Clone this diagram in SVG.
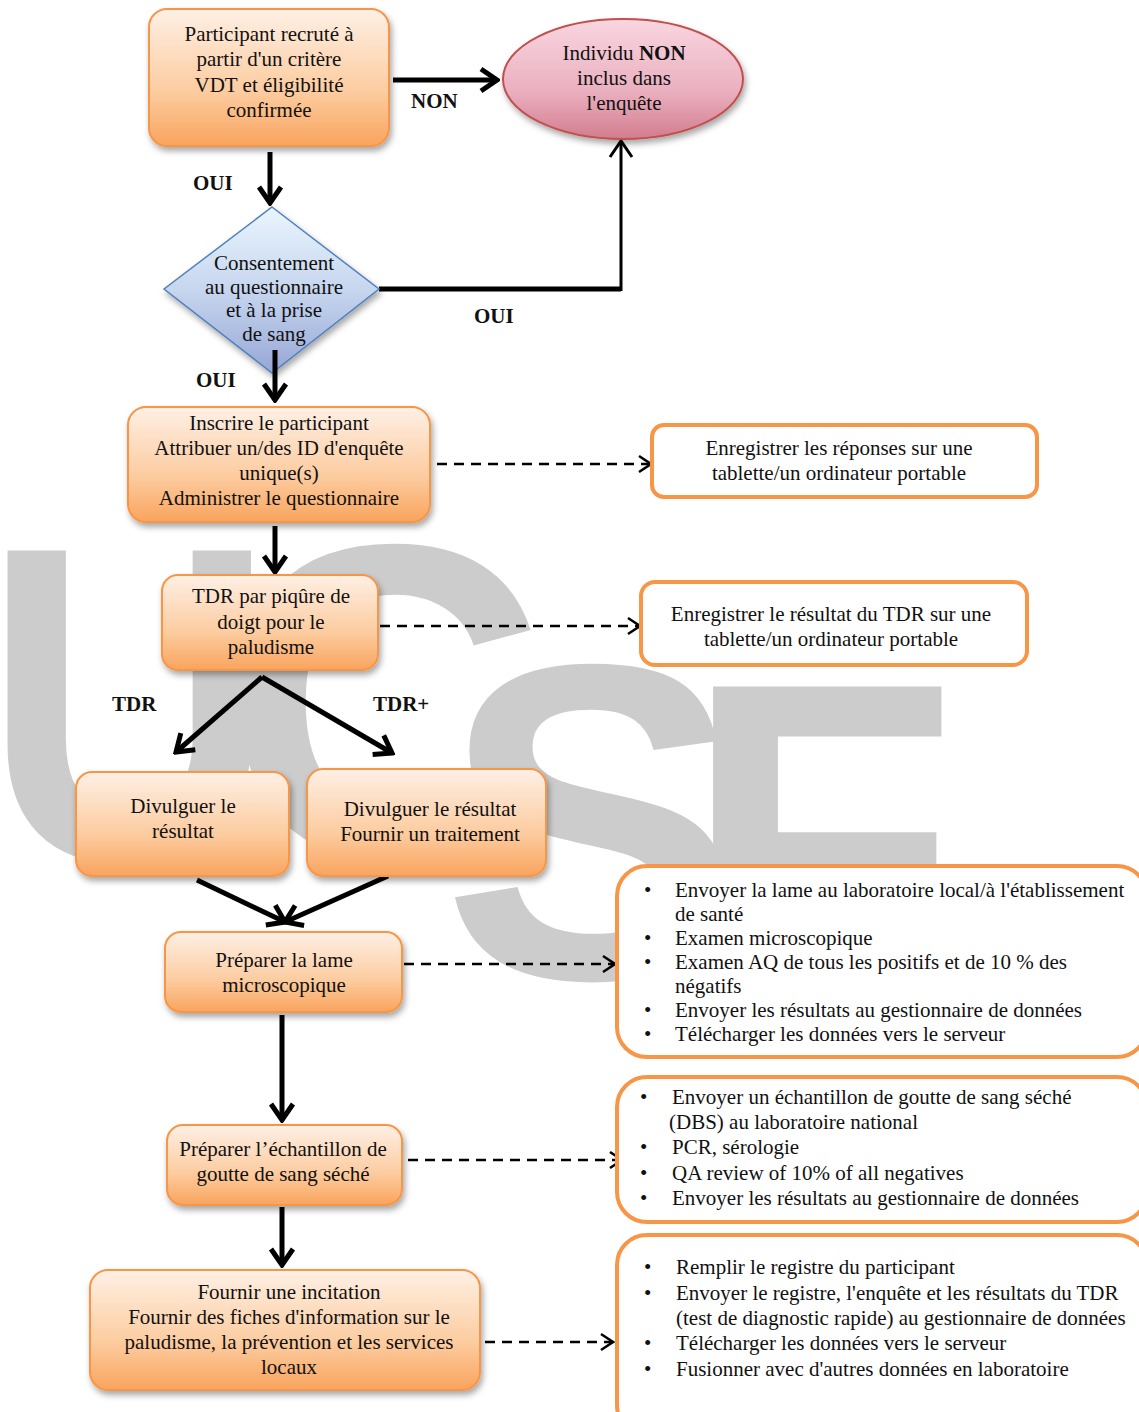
<svg xmlns="http://www.w3.org/2000/svg" width="1139" height="1412" viewBox="0 0 1139 1412">
<defs>
<style>
.t{font-family:"Liberation Serif","Times New Roman",serif;font-size:21px;fill:#111;}
.c{text-anchor:middle;}
.b{font-weight:bold;}
.wm{font-family:"Liberation Sans",Arial,sans-serif;font-weight:bold;font-size:450px;fill:#cccccc;}
.box{fill:url(#og);stroke:#f79646;stroke-width:2;filter:url(#sh);}
.rb{fill:#fff;stroke:#f79646;stroke-width:4;}
.thick{stroke:#000;stroke-width:5;fill:none;marker-end:url(#ah);}
.dash{stroke:#000;stroke-width:2.5;fill:none;stroke-dasharray:10 7;marker-end:url(#ad);}
</style>
<linearGradient id="og" x1="0" y1="0" x2="0" y2="1">
<stop offset="0" stop-color="#fef0e5"/>
<stop offset="0.6" stop-color="#fccca0"/>
<stop offset="1" stop-color="#f9a45d"/>
</linearGradient>
<linearGradient id="pg" x1="0" y1="0" x2="0" y2="1">
<stop offset="0" stop-color="#f9d6e0"/>
<stop offset="0.6" stop-color="#eab0c0"/>
<stop offset="1" stop-color="#d27d8e"/>
</linearGradient>
<linearGradient id="bg" x1="0" y1="0" x2="0" y2="1">
<stop offset="0" stop-color="#eaf5fd"/>
<stop offset="0.5" stop-color="#c6d6ee"/>
<stop offset="1" stop-color="#97a7d6"/>
</linearGradient>
<filter id="sh" x="-10%" y="-10%" width="125%" height="135%">
<feDropShadow dx="2" dy="4" stdDeviation="3" flood-color="#000" flood-opacity="0.35"/>
</filter>
<marker id="ah" viewBox="0 0 22 28" refX="19" refY="14" markerWidth="22" markerHeight="28" orient="auto" markerUnits="userSpaceOnUse">
<path d="M3,3 L19,14 L3,25" fill="none" stroke="#000" stroke-width="5" stroke-linejoin="miter"/>
</marker>
<marker id="at" viewBox="0 0 22 28" refX="19" refY="14" markerWidth="22" markerHeight="28" orient="auto" markerUnits="userSpaceOnUse">
<path d="M3,3 L19,14 L3,25" fill="none" stroke="#000" stroke-width="3"/>
</marker>
<marker id="ad" viewBox="0 0 16 20" refX="14" refY="10" markerWidth="16" markerHeight="20" orient="auto" markerUnits="userSpaceOnUse">
<path d="M2,2 L14,10 L2,18" fill="none" stroke="#000" stroke-width="2.5"/>
</marker>
</defs>
<rect width="1139" height="1412" fill="#fff"/>
<g id="watermark">
<text class="wm" x="-32" y="860" transform="translate(12,0) scale(0.9,1)">U</text>
<text class="wm" x="222" y="858">C</text>
<text class="wm" x="442" y="978">S</text>
<text class="wm" x="683" y="996">F</text>
</g>
<g id="connectors">
<line class="thick" x1="393" y1="80" x2="497" y2="80"/>
<line class="thick" x1="270" y1="152" x2="270" y2="203"/>
<polyline points="379,289 621,289" fill="none" stroke="#000" stroke-width="5"/>
<line x1="621" y1="291" x2="621" y2="141" stroke="#000" stroke-width="3" marker-end="url(#at)"/>
<line class="dash" x1="437" y1="464" x2="651" y2="464"/>
<line class="thick" x1="275" y1="526" x2="275" y2="572"/>
<line class="dash" x1="380" y1="626" x2="640" y2="626"/>
<line class="thick" x1="262" y1="677" x2="176" y2="752"/>
<line class="thick" x1="262" y1="677" x2="392" y2="753"/>
<line class="thick" x1="197" y1="880" x2="285" y2="922"/>
<line class="thick" x1="388" y1="876" x2="285" y2="922"/>
<line class="dash" x1="404" y1="964" x2="615" y2="964"/>
<line class="thick" x1="282" y1="1015" x2="282" y2="1120"/>
<line class="dash" x1="408" y1="1160" x2="622" y2="1160"/>
<line class="thick" x1="282" y1="1207" x2="282" y2="1265"/>
<line class="dash" x1="485" y1="1342" x2="613" y2="1342"/>
</g>
<g id="labels">
<text class="t b" x="411" y="108">NON</text>
<text class="t b" x="193" y="190">OUI</text>
<text class="t b" x="474" y="323">OUI</text>
<text class="t b" x="196" y="387">OUI</text>
<text class="t b" x="112" y="711">TDR</text>
<text class="t b" x="373" y="711">TDR+</text>
</g>
<g id="n1">
<rect class="box" x="149" y="9" width="240" height="137" rx="18"/>
<text class="t c" x="269" y="41">Participant recruté à</text>
<text class="t c" x="269" y="66">partir d'un critère</text>
<text class="t c" x="269" y="92">VDT et éligibilité</text>
<text class="t c" x="269" y="117">confirmée</text>
</g>
<g id="n2">
<ellipse cx="623" cy="79" rx="120" ry="60" fill="url(#pg)" stroke="#c0504d" stroke-width="2" filter="url(#sh)"/>
<text class="t c" x="624" y="60">Individu <tspan class="b">NON</tspan></text>
<text class="t c" x="624" y="85">inclus dans</text>
<text class="t c" x="624" y="110">l'enquête</text>
</g>
<g id="n3">
<polygon points="272,207 379,289 272,373 164,289" fill="url(#bg)" stroke="#4f81bd" stroke-width="1.5" filter="url(#sh)"/>
<text class="t c" x="274" y="270">Consentement</text>
<text class="t c" x="274" y="294">au questionnaire</text>
<text class="t c" x="274" y="317">et à la prise</text>
<text class="t c" x="274" y="341">de sang</text>
</g>
<line class="thick" x1="275" y1="350" x2="275" y2="400"/>
<g id="n4">
<rect class="box" x="128" y="407" width="302" height="115" rx="18"/>
<text class="t c" x="279" y="430">Inscrire le participant</text>
<text class="t c" x="279" y="455">Attribuer un/des ID d'enquête</text>
<text class="t c" x="279" y="480">unique(s)</text>
<text class="t c" x="279" y="505">Administrer le questionnaire</text>
</g>
<g id="n5">
<rect class="rb" x="652" y="425" width="385" height="72" rx="12"/>
<text class="t c" x="839" y="455">Enregistrer les réponses sur une</text>
<text class="t c" x="839" y="480">tablette/un ordinateur portable</text>
</g>
<g id="n6">
<rect class="box" x="162" y="575" width="216" height="95" rx="16"/>
<text class="t c" x="271" y="603">TDR par piqûre de</text>
<text class="t c" x="271" y="629">doigt pour le</text>
<text class="t c" x="271" y="654">paludisme</text>
</g>
<g id="n7">
<rect class="rb" x="641" y="582" width="386" height="83" rx="14"/>
<text class="t c" x="831" y="621">Enregistrer le résultat du TDR sur une</text>
<text class="t c" x="831" y="646">tablette/un ordinateur portable</text>
</g>
<g id="n8">
<rect class="box" x="76" y="772" width="213" height="104" rx="16"/>
<text class="t c" x="183" y="813">Divulguer le</text>
<text class="t c" x="183" y="838">résultat</text>
</g>
<g id="n9">
<rect class="box" x="307" y="769" width="239" height="107" rx="16"/>
<text class="t c" x="430" y="816">Divulguer le résultat</text>
<text class="t c" x="430" y="841">Fournir un traitement</text>
</g>
<g id="n10">
<rect class="box" x="165" y="932" width="237" height="80" rx="16"/>
<text class="t c" x="284" y="967">Préparer la lame</text>
<text class="t c" x="284" y="992">microscopique</text>
</g>
<g id="n11">
<rect class="rb" x="617" y="866" width="530" height="191" rx="30"/>
<text class="t" x="644" y="897">•</text><text class="t" x="675" y="897">Envoyer la lame au laboratoire local/à l'établissement</text>
<text class="t" x="675" y="921">de santé</text>
<text class="t" x="644" y="945">•</text><text class="t" x="675" y="945">Examen microscopique</text>
<text class="t" x="644" y="969">•</text><text class="t" x="675" y="969">Examen AQ de tous les positifs et de 10 % des</text>
<text class="t" x="675" y="993">négatifs</text>
<text class="t" x="644" y="1017">•</text><text class="t" x="675" y="1017">Envoyer les résultats au gestionnaire de données</text>
<text class="t" x="644" y="1041">•</text><text class="t" x="675" y="1041">Télécharger les données vers le serveur</text>
</g>
<g id="n12">
<rect class="box" x="167" y="1125" width="235" height="80" rx="16"/>
<text class="t c" x="283" y="1156">Préparer l’échantillon de</text>
<text class="t c" x="283" y="1181">goutte de sang séché</text>
</g>
<g id="n13">
<rect class="rb" x="617" y="1077" width="530" height="145" rx="30"/>
<text class="t" x="640" y="1104">•</text><text class="t" x="672" y="1104">Envoyer un échantillon de goutte de sang séché</text>
<text class="t" x="669" y="1129">(DBS) au laboratoire national</text>
<text class="t" x="640" y="1154">•</text><text class="t" x="672" y="1154">PCR, sérologie</text>
<text class="t" x="640" y="1180">•</text><text class="t" x="672" y="1180">QA review of 10% of all negatives</text>
<text class="t" x="640" y="1205">•</text><text class="t" x="672" y="1205">Envoyer les résultats au gestionnaire de données</text>
</g>
<g id="n14">
<rect class="box" x="90" y="1270" width="390" height="120" rx="18"/>
<text class="t c" x="289" y="1299">Fournir une incitation</text>
<text class="t c" x="289" y="1324">Fournir des fiches d'information sur le</text>
<text class="t c" x="289" y="1349">paludisme, la prévention et les services</text>
<text class="t c" x="289" y="1374">locaux</text>
</g>
<g id="n15">
<rect class="rb" x="617" y="1235" width="530" height="200" rx="30"/>
<text class="t" x="644" y="1274">•</text><text class="t" x="676" y="1274">Remplir le registre du participant</text>
<text class="t" x="644" y="1300">•</text><text class="t" x="676" y="1300">Envoyer le registre, l'enquête et les résultats du TDR</text>
<text class="t" x="676" y="1325">(test de diagnostic rapide) au gestionnaire de données</text>
<text class="t" x="644" y="1350">•</text><text class="t" x="676" y="1350">Télécharger les données vers le serveur</text>
<text class="t" x="644" y="1376">•</text><text class="t" x="676" y="1376">Fusionner avec d'autres données en laboratoire</text>
</g>
</svg>
